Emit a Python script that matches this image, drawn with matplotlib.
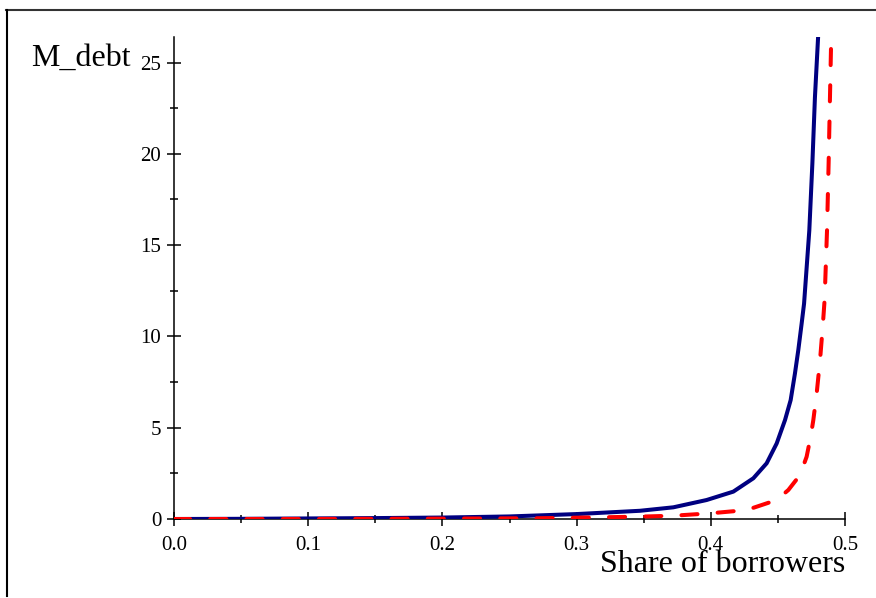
import matplotlib.pyplot as plt
from matplotlib.lines import Line2D

# values
share_solid = [0.0, 0.05, 0.1, 0.15, 0.2, 0.25, 0.3, 0.3472, 0.3721, 0.3969,
               0.4168, 0.4317, 0.4416, 0.4491, 0.4553, 0.4595, 0.4627, 0.4652,
               0.4677, 0.4695, 0.4734, 0.4757, 0.4776, 0.4801]
debt_solid = [0.0, 0.01, 0.03, 0.05, 0.08, 0.14, 0.27, 0.45, 0.64, 1.04,
              1.50, 2.23, 3.05, 4.14, 5.42, 6.51, 7.97, 9.25,
              10.71, 11.8, 15.8, 19.5, 23.1, 26.6]

share_dash = [0.0, 0.1, 0.2, 0.27, 0.317, 0.3472, 0.3721, 0.3994, 0.4267,
              0.4491, 0.4578, 0.4665, 0.4714, 0.4744, 0.4764, 0.4789, 0.4814,
              0.4834, 0.4848, 0.4866, 0.4878, 0.4888, 0.4896, 0.4901]
debt_dash = [0.0, 0.0, 0.02, 0.04, 0.09, 0.13, 0.18, 0.31, 0.49,
             1.04, 1.59, 2.41, 3.41, 4.50, 5.42, 6.88, 8.70,
             10.53, 12.0, 15.8, 19.5, 23.1, 25.9, 26.8]

xticks = [0.0, 0.1, 0.2, 0.3, 0.4, 0.5]
xticklabels = ['0.0', '0.1', '0.2', '0.3', '0.4', '0.5']
yticks = [0, 5, 10, 15, 20, 25]

plt.rcParams['font.family'] = ['Liberation Serif', 'DejaVu Serif']

fig = plt.figure(figsize=(8.76, 5.98), dpi=100)
ax = fig.add_axes([174 / 876, 79 / 598, (845 - 174) / 876, (519 - 37) / 598])

ax.plot(share_solid, debt_solid, color='#000080', lw=2.9, zorder=3,
        solid_capstyle='round', solid_joinstyle='round')
ax.plot(share_dash, debt_dash, color='#ff0000', lw=2.9, zorder=3,
        linestyle=(0, (4, 5)), dash_capstyle='round', dash_joinstyle='round')

ax.set_xlim(0, 0.5)
ax.set_ylim(0, 26.4)

ax.spines['top'].set_visible(False)
ax.spines['right'].set_visible(False)
ax.spines['left'].set_linewidth(1.1)
ax.spines['bottom'].set_linewidth(1.1)

ax.set_xticks(xticks)
ax.set_xticklabels(xticklabels)
ax.set_xticks([0.05, 0.15, 0.25, 0.35, 0.45], minor=True)
ax.set_yticks(yticks)
ax.set_yticks([2.5, 7.5, 12.5, 17.5, 22.5], minor=True)
ax.tick_params(which='major', direction='inout', length=10.5, width=1.1,
               labelsize=15, pad=4)
ax.tick_params(which='minor', direction='inout', length=6, width=1.1)
ax.tick_params(axis='x', which='major', pad=7)

fig.text(31 / 876, (598 - 66) / 598, 'M_debt', fontsize=23,
         ha='left', va='baseline')
fig.text(845 / 876, (598 - 572) / 598, 'Share of borrowers', fontsize=23,
         ha='right', va='baseline')

# outer frame (top and left edges)
fig.add_artist(Line2D([6 / 876, 1.0], [1 - 10 / 598, 1 - 10 / 598],
                      color='#333333', lw=1.5, transform=fig.transFigure))
fig.add_artist(Line2D([6.5 / 876, 6.5 / 876], [1 - 10 / 598, 1 - 596 / 598],
                      color='black', lw=1.5, transform=fig.transFigure))

fig.savefig('out.png', dpi=100)
